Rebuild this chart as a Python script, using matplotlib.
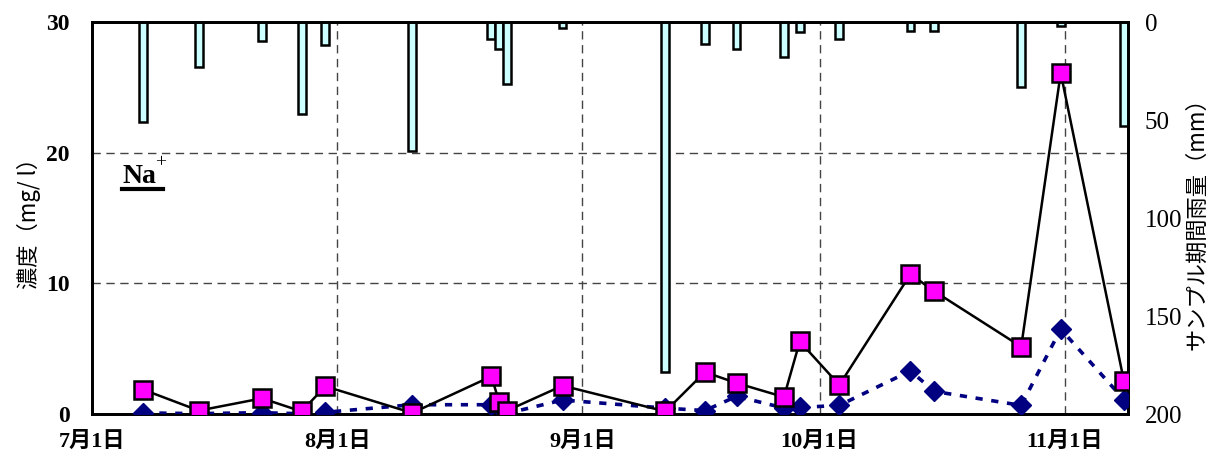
import matplotlib
matplotlib.use("Agg")
import matplotlib.pyplot as plt
import pandas as pd
from matplotlib.lines import Line2D
from matplotlib.transforms import blended_transform_factory

YEAR = 2003

# sampling dates (end of each sampling period)
sample_dates = [
    "07-07", "07-14", "07-22", "07-27", "07-30", "08-10", "08-20", "08-21",
    "08-22", "08-29", "09-11", "09-16", "09-20", "09-26", "09-28", "10-03",
    "10-12", "10-15", "10-26", "10-31", "11-08",
]
rain_mm = [51, 23, 9.7, 47, 11.5, 66, 8.8, 14, 31.5, 3, 178.5, 11.4,
           14, 17.7, 5, 8.5, 4.4, 4.4, 33, 2, 53]
conc_square = [1.86, 0.26, 1.2, 0.2, 2.12, 0.08, 2.88, 0.9, 0.26, 2.17, 0.2,
               3.21, 2.37, 1.3, 5.55, 2.22, 10.7, 9.4, 5.15, 26.1, 2.5]
conc_diamond = [0.08, 0.03, 0.1, 0.02, 0.13, 0.71, 0.71, 0.6, 0.05, 1.07, 0.45,
                0.26, 1.35, 0.46, 0.5, 0.66, 3.3, 1.73, 0.66, 6.5, 1.1]

month_ticks = ["07-01", "08-01", "09-01", "10-01", "11-01"]
month_labels = ["7月1日", "8月1日", "9月1日", "10月1日", "11月1日"]
x_start, x_end = "07-01", "11-09"

SERIF_JP = ["Liberation Serif", "Noto Sans CJK JP"]
plt.rcParams["font.family"] = SERIF_JP

x = pd.to_datetime([f"{YEAR}-{d}" for d in sample_dates]) + pd.Timedelta(hours=12)
ticks = pd.to_datetime([f"{YEAR}-{d}" for d in month_ticks])

fig = plt.figure(figsize=(12.19, 4.55), dpi=100)
ax = fig.add_axes([0.0755, 0.0901, 0.8498, 0.8615])
ax2 = ax.twinx()

# rainfall bars hanging from the top on the right axis
ax2.bar(x, rain_mm, width=1.0, color="#CCFFFF", edgecolor="black", linewidth=1.8, zorder=3)
ax2.set_ylim(200, 0)
ax2.set_yticks([0, 50, 100, 150, 200])
ax2.tick_params(axis="y", length=0, pad=12, labelsize=18)
ax2.set_ylabel("サンプル期間雨量（mm）", fontsize=16, family="Noto Sans CJK JP",
               labelpad=2)

# dashed grid drawn under the bars
grid_kw = dict(color="#444444", linewidth=1.0, linestyle=(0, (6, 4)), zorder=1)
htrans = blended_transform_factory(ax2.transAxes, ax.transData)
for g in [10, 20]:
    ax2.add_line(Line2D([0, 1], [g, g], transform=htrans, **grid_kw))
for t in ticks[1:]:
    ax2.axvline(t, **grid_kw)

# concentration lines on the left axis, above the bars
ax.set_zorder(ax2.get_zorder() + 1)
ax.patch.set_visible(False)
ax.plot(x, conc_diamond, color="#000080", linestyle=(0, (2.0, 2.4)), linewidth=2.6,
        marker="D", markersize=10, markerfacecolor="#000080",
        markeredgecolor="#000080", zorder=3)
ax.plot(x, conc_square, color="black", linewidth=1.8,
        marker="s", markersize=12.5, markerfacecolor="#FF00FF",
        markeredgecolor="black", markeredgewidth=1.8, zorder=4)

ax.set_ylim(0, 30)
ax.set_yticks([0, 10, 20, 30])
ax.set_xlim(pd.Timestamp(f"{YEAR}-{x_start}"), pd.Timestamp(f"{YEAR}-{x_end}"))
ax.set_xticks(ticks)
ax.set_xticklabels(month_labels, fontweight="bold")
ax.tick_params(axis="x", length=0, pad=13, labelsize=16)
ax.tick_params(axis="y", length=0, pad=16, labelsize=17)
for lab in ax.get_yticklabels():
    lab.set_fontweight("bold")
ax.set_ylabel("濃度（mg/ l）", fontsize=16, family="Noto Sans CJK JP", labelpad=4)

for a in (ax, ax2):
    for sp in a.spines.values():
        sp.set_linewidth(2.0)
        sp.set_color("black")

# Na+ label with underline
ax.text(0.029, 0.589, "Na", transform=ax.transAxes, fontsize=20, fontweight="bold",
        ha="left", va="baseline")
ax.text(0.0605, 0.63, "+", transform=ax.transAxes, fontsize=14,
        ha="left", va="baseline")
ax.plot([0.029, 0.0685], [0.574, 0.574], transform=ax.transAxes, color="black",
        linewidth=3, clip_on=False)

fig.savefig("out.png", dpi=100)
